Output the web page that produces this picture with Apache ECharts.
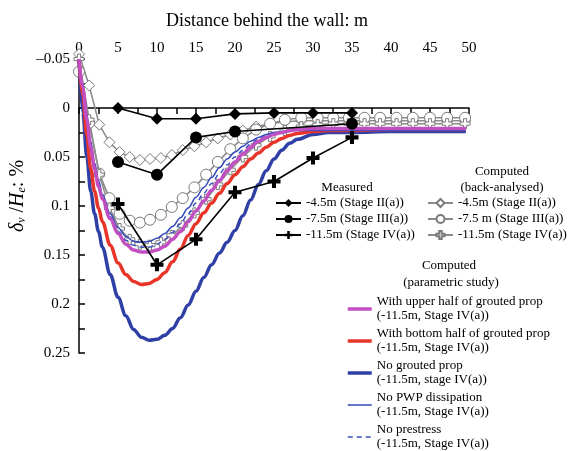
<!DOCTYPE html>
<html>
<head>
<meta charset="utf-8">
<script src="https://cdn.jsdelivr.net/npm/echarts@6/dist/echarts.min.js"></script>
<style>
  html, body { margin: 0; padding: 0; background: #fff; }
  #chart { width: 575px; height: 451px; }
</style>
</head>
<body>
<div id="chart"></div>
<script>
// Distance behind the wall (m) and normalised settlement (%)
const xTicks = [0, 5, 10, 15, 20, 25, 30, 35, 40, 45, 50];
const yTicks = [-0.05, 0, 0.05, 0.1, 0.15, 0.2, 0.25];

// Measured settlements
const xMeas45 = [5, 10, 15, 20, 25, 30, 35];
const meas45 = [0.0, 0.011, 0.011, 0.006, 0.005, 0.005, 0.005];
const xMeas75 = [5, 10, 15, 20, 35];
const meas75 = [0.055, 0.068, 0.030, 0.024, 0.016];
const xMeas115 = [5, 10, 15, 20, 25, 30, 35];
const meas115 = [0.098, 0.160, 0.134, 0.086, 0.075, 0.051, 0.030];

// Back-analysed FE results (nodal values)
const xBack = [0, 1.3, 2.6, 3.9, 5.2, 6.5, 7.8, 9.1, 10.5, 11.9, 13.3, 14.8, 16.3, 17.8, 19.4,
               21, 22.7, 24.5, 26.4, 28.5, 30.6, 32.6, 34.6, 36.6, 38.6, 40.7, 42.8, 45, 47.2, 49.5];
const back45 = [-0.055, -0.023, 0.017, 0.035, 0.045, 0.050, 0.053, 0.052, 0.051, 0.048, 0.043, 0.039, 0.035, 0.031, 0.027,
                0.023, 0.019, 0.016, 0.014, 0.013, 0.013, 0.013, 0.013, 0.013, 0.013, 0.013, 0.013, 0.013, 0.013, 0.013];
const back75 = [-0.037, 0.015, 0.067, 0.092, 0.108, 0.115, 0.117, 0.114, 0.109, 0.101, 0.092, 0.081, 0.068, 0.055, 0.042,
                0.031, 0.022, 0.016, 0.012, 0.010, 0.010, 0.010, 0.010, 0.010, 0.010, 0.010, 0.010, 0.010, 0.010, 0.010];
const back115 = [-0.05, 0.012, 0.068, 0.102, 0.123, 0.134, 0.139, 0.140, 0.137, 0.130, 0.120, 0.107, 0.093, 0.078, 0.063,
                 0.050, 0.038, 0.029, 0.023, 0.019, 0.017, 0.016, 0.016, 0.016, 0.016, 0.016, 0.016, 0.016, 0.016, 0.016];

// Parametric study (-11.5 m, Stage IV(a))
const xParam = [0, 0.5, 1, 1.5, 2, 2.5, 3, 4, 5, 6, 7, 8, 9, 10, 11, 12, 13, 14, 15, 16, 17, 18, 19, 20,
                21, 22, 23, 24, 25, 26, 27, 28, 30, 32, 35, 40, 45, 49.6];
const upperHalf = [-0.05, -0.02, 0.012, 0.04, 0.062, 0.080, 0.093, 0.113, 0.128, 0.139, 0.145, 0.147, 0.147, 0.145, 0.141, 0.134, 0.126, 0.116, 0.105, 0.095, 0.084, 0.074, 0.064, 0.055,
                   0.047, 0.040, 0.034, 0.030, 0.027, 0.025, 0.023, 0.022, 0.021, 0.021, 0.021, 0.021, 0.021, 0.021];
const bottomHalf = [-0.05, -0.012, 0.028, 0.062, 0.085, 0.102, 0.116, 0.140, 0.158, 0.170, 0.177, 0.180, 0.179, 0.175, 0.168, 0.157, 0.144, 0.130, 0.118, 0.107, 0.097, 0.087, 0.077, 0.068,
                    0.060, 0.052, 0.046, 0.040, 0.035, 0.031, 0.028, 0.026, 0.024, 0.023, 0.023, 0.022, 0.022, 0.022];
const noGrout = [-0.05, 0.005, 0.05, 0.085, 0.108, 0.126, 0.142, 0.170, 0.193, 0.212, 0.226, 0.234, 0.237, 0.236, 0.232, 0.225, 0.214, 0.201, 0.187, 0.173, 0.160, 0.148, 0.137, 0.125,
                 0.110, 0.094, 0.078, 0.064, 0.052, 0.043, 0.036, 0.032, 0.027, 0.025, 0.025, 0.024, 0.024, 0.024];
const noPwp = [-0.05, -0.025, 0.006, 0.034, 0.056, 0.074, 0.088, 0.108, 0.122, 0.131, 0.136, 0.137, 0.136, 0.133, 0.128, 0.121, 0.112, 0.102, 0.091, 0.081, 0.071, 0.061, 0.052, 0.045,
               0.039, 0.034, 0.030, 0.027, 0.025, 0.024, 0.023, 0.023, 0.023, 0.023, 0.023, 0.023, 0.023, 0.023];
const noPrestress = [-0.05, -0.022, 0.009, 0.037, 0.059, 0.077, 0.091, 0.111, 0.126, 0.135, 0.140, 0.142, 0.142, 0.139, 0.134, 0.127, 0.118, 0.108, 0.097, 0.087, 0.077, 0.067, 0.058, 0.050,
                     0.043, 0.037, 0.032, 0.028, 0.026, 0.024, 0.023, 0.022, 0.022, 0.022, 0.022, 0.022, 0.022, 0.022];

const SERIF = "'Liberation Serif', 'Times New Roman', 'DejaVu Serif', serif";
const PLUS = 'path://M-1,-3.2L1,-3.2L1,-1L3.2,-1L3.2,1L1,1L1,3.2L-1,3.2L-1,1L-3.2,1L-3.2,-1L-1,-1Z';

const pairs = (xs, ys) => xs.map((x, i) => [x, ys[i]]);

// legend labels keyed by series name
const labels = {
  m45: '-4.5m (Stage II(a))',
  m75: '-7.5m (Stage III(a))',
  m115: '-11.5m (Stage IV(a))',
  b45: '-4.5m (Stage II(a))',
  b75: '-7.5 m (Stage III(a))',
  b115: '-11.5m (Stage IV(a))',
  pUp: 'With upper half of grouted prop\n(-11.5m, Stage IV(a))',
  pBot: 'With bottom half of grouted prop\n(-11.5m, Stage IV(a))',
  pNone: 'No grouted prop\n(-11.5m, stage IV(a))',
  pPwp: 'No PWP dissipation\n(-11.5m, Stage IV(a))',
  pPre: 'No prestress\n(-11.5m, Stage IV(a))'
};

function backSeries(name, ys, symbol, size) {
  return {
    name, type: 'line', data: pairs(xBack, ys), clip: false,
    symbol, symbolSize: size, showAllSymbol: true,
    lineStyle: { color: '#8c8c8c', width: 1.6 },
    itemStyle: { color: '#ffffff', borderColor: '#7a7a7a', borderWidth: 1 },
    z: 2
  };
}
function paramSeries(name, ys, color, width, type, z) {
  return {
    name, type: 'line', data: pairs(xParam, ys), clip: false,
    symbol: 'none', smooth: 0.35, smoothMonotone: 'x',
    lineStyle: { color, width, type: type || 'solid' },
    itemStyle: { color },
    z
  };
}
function measSeries(name, xs, ys, symbol, size) {
  return {
    name, type: 'line', data: pairs(xs, ys), clip: false,
    symbol, symbolSize: size, showAllSymbol: true,
    lineStyle: { color: '#000', width: 1.6 },
    itemStyle: { color: '#000' },
    z: 6
  };
}

const legendText = { fontFamily: SERIF, fontSize: 13, color: '#000', lineHeight: 14 };

const option = {
  animation: false,
  backgroundColor: '#fff',
  grid: { left: 79, top: 59, right: 106, bottom: 98 },
  xAxis: {
    type: 'value', position: 'top', min: xTicks[0], max: xTicks[xTicks.length - 1], interval: 5,
    axisLine: { lineStyle: { color: '#000', width: 1.5 } },
    axisTick: { inside: true, length: 6, lineStyle: { color: '#000', width: 1.5 } },
    minorTick: { show: true, splitNumber: 2, length: 6, lineStyle: { color: '#000', width: 1.5 } },
    axisLabel: { fontFamily: SERIF, fontSize: 15, color: '#000', margin: 3 },
    splitLine: { show: false }
  },
  yAxis: {
    type: 'value', inverse: true, min: yTicks[0], max: yTicks[yTicks.length - 1], interval: 0.05,
    axisLine: { lineStyle: { color: '#000', width: 1.5 } },
    axisTick: { inside: true, length: 6, lineStyle: { color: '#000', width: 1.5 } },
    minorTick: { show: true, splitNumber: 2, length: 6, lineStyle: { color: '#000', width: 1.5 } },
    axisLabel: {
      fontFamily: SERIF, fontSize: 15, color: '#000', margin: 9,
      formatter: v => {
        const s = String(+Math.abs(v).toFixed(2));
        return v < 0 ? '\u2013' + s : s;
      }
    },
    splitLine: { show: false }
  },
  legend: [
    {
      data: ['m45', 'm75', 'm115'], formatter: n => labels[n],
      orient: 'vertical', left: 275, top: 196, padding: 0, itemGap: 2,
      itemWidth: 25, itemHeight: 10, textStyle: legendText
    },
    {
      data: ['b45', 'b75', 'b115'], formatter: n => labels[n],
      orient: 'vertical', left: 427, top: 196, padding: 0, itemGap: 2,
      itemWidth: 25, itemHeight: 10, textStyle: legendText
    },
    {
      data: ['pUp', 'pBot', 'pNone', 'pPwp', 'pPre'], formatter: n => labels[n],
      orient: 'vertical', left: 346, top: 295, padding: 0, itemGap: 4,
      itemWidth: 24, itemHeight: 8, textStyle: legendText,
      itemStyle: { opacity: 0 },
      lineStyle: { width: 'inherit' }
    }
  ],
  graphic: [
    { type: 'text', x: 267, y: 21, style: { text: 'Distance behind the wall: m', font: '18px ' + SERIF, fill: '#000', align: 'center', verticalAlign: 'middle' } },
    {
      type: 'text', x: 18, y: 196, rotation: Math.PI / 2,
      style: {
        text: '{i|\u03b4}{s|v}{n| /}{i|H}{s|e}{n|: %}',
        align: 'center', verticalAlign: 'middle', fill: '#000',
        rich: {
          i: { fontFamily: SERIF, fontSize: 20, fontStyle: 'italic', fill: '#000' },
          n: { fontFamily: SERIF, fontSize: 20, fill: '#000' },
          s: { fontFamily: SERIF, fontSize: 12, fontStyle: 'italic', fill: '#000', verticalAlign: 'bottom' }
        }
      }
    },
    { type: 'text', x: 347, y: 188, style: { text: 'Measured', font: '13px ' + SERIF, fill: '#000', align: 'center', verticalAlign: 'middle' } },
    { type: 'text', x: 502, y: 172, style: { text: 'Computed', font: '13px ' + SERIF, fill: '#000', align: 'center', verticalAlign: 'middle' } },
    { type: 'text', x: 502, y: 188, style: { text: '(back-analysed)', font: '13px ' + SERIF, fill: '#000', align: 'center', verticalAlign: 'middle' } },
    { type: 'text', x: 449, y: 266, style: { text: 'Computed', font: '13px ' + SERIF, fill: '#000', align: 'center', verticalAlign: 'middle' } },
    { type: 'text', x: 451, y: 283, style: { text: '(parametric study)', font: '13px ' + SERIF, fill: '#000', align: 'center', verticalAlign: 'middle' } }
  ],
  series: [
    backSeries('b45', back45, 'diamond', 11),
    backSeries('b75', back75, 'circle', 11),
    backSeries('b115', back115, PLUS, 10),
    paramSeries('pNone', noGrout, '#2e3fa6', 3.5, 'solid', 3),
    paramSeries('pBot', bottomHalf, '#e8352a', 3.5, 'solid', 3),
    paramSeries('pPwp', noPwp, '#3048b8', 1.5, 'solid', 4),
    paramSeries('pPre', noPrestress, '#3a50c0', 1.5, [5, 4], 4),
    paramSeries('pUp', upperHalf, '#c24fc2', 3.5, 'solid', 5),
    measSeries('m45', xMeas45, meas45, 'diamond', 12),
    measSeries('m75', xMeas75, meas75, 'circle', 12),
    measSeries('m115', xMeas115, meas115, PLUS, 13)
  ]
};

const chart = echarts.init(document.getElementById('chart'), null, { renderer: 'canvas' });
chart.setOption(option);
</script>
</body>
</html>
